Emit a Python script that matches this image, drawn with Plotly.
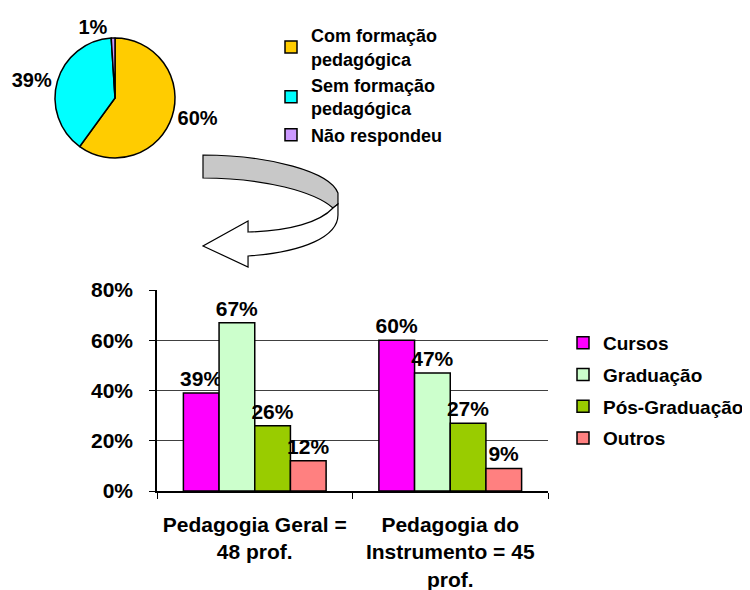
import plotly.graph_objects as go

W, H = 750, 590
OX, OY = 8, 8  # page body margin offset
FW, FH = W - OX, H - OY
FONT = 'Liberation Sans'

# pie data
pie_labels = ['Com formação<br>pedagógica', 'Sem formação<br>pedagógica', 'Não respondeu']
pie_values = [60, 39, 1]
pie_colors = ['#FFCC00', '#00FFFF', '#CC99FF']

# bar data
categories = ['Pedagogia Geral =<br>48 prof.', 'Pedagogia do<br>Instrumento = 45<br>prof.']
series_names = ['Cursos', 'Graduação', 'Pós-Graduação', 'Outros']
cursos = [39, 60]
graduacao = [67, 47]
pos_graduacao = [26, 27]
outros = [12, 9]
bar_colors = ['#FF00FF', '#CCFFCC', '#99CC00', '#FF8080']
y_ticks = [0, 20, 40, 60, 80]
y_ticktext = ['0%', '20%', '40%', '60%', '80%']


def fx(x):
    return (x - OX) / FW


def fy(y):
    return 1 - (y - OY) / FH


def path(cmds):
    out = []
    for c in cmds:
        if isinstance(c, str):
            out.append(c)
        else:
            out.append(f'{fx(c[0]):.4f},{fy(c[1]):.4f}')
    return ' '.join(out)


fig = go.Figure()

fig.add_trace(go.Pie(
    labels=pie_labels, values=pie_values, sort=False,
    direction='clockwise', rotation=0,
    marker=dict(colors=pie_colors, line=dict(color='black', width=1.5)),
    textinfo='percent', textposition='outside',
    textfont=dict(family=FONT, size=20, color='black', weight='bold'),
    domain=dict(x=[fx(55), fx(175)], y=[fy(158), fy(38)]),
    legend='legend2', showlegend=True, hoverinfo='label+percent'
))

for name, vals, col in zip(series_names, [cursos, graduacao, pos_graduacao, outros], bar_colors):
    fig.add_trace(go.Bar(
        x=categories, y=vals, name=name, legendgroup=name,
        marker=dict(color=col, line=dict(color='black', width=1.5)),
        text=[f'{v}%' for v in vals], textposition='outside',
        texttemplate='%{text}', constraintext='none', cliponaxis=False,
        textfont=dict(family=FONT, size=21, color='black', weight='bold')
    ))

# curved arrow (decoration)
gray = path(['M', (203, 155), 'C', (270, 155), (330, 172), (338, 193), 'L', (338, 204), 'L', (333, 208),
             'C', (315, 192), (265, 178), (203, 178), 'Z'])
white = path(['M', (333, 208), 'C', (320, 222), (290, 231), (248, 232), 'L', (248, 221), 'L', (203, 246),
              'L', (248, 267), 'L', (248, 256), 'C', (305, 252), (338, 236), (338, 215), 'L', (338, 204), 'Z'])

fig.update_layout(
    width=FW, height=FH, template='none',
    paper_bgcolor='white', plot_bgcolor='white',
    margin=dict(l=0, r=0, t=0, b=0),
    font=dict(family=FONT, size=20, color='black', weight='bold'),
    barmode='group', bargap=0.27, bargroupgap=0,
    xaxis=dict(domain=[fx(157), fx(548)], automargin=False, showline=True, linecolor='black', linewidth=1.5,
               ticks='outside', tickson='boundaries', ticklen=6, tickcolor='black', showgrid=False,
               tickfont=dict(family=FONT, size=21, weight='bold'), ticklabelstandoff=14),
    yaxis=dict(domain=[fy(491), fy(290)], automargin=False, range=[0, 80], tickvals=y_ticks,
               ticktext=y_ticktext, showline=True, linecolor='black', linewidth=1.5,
               ticks='outside', ticklen=6, tickcolor='black', showgrid=True, gridcolor='#404040',
               gridwidth=1, zeroline=False, tickfont=dict(family=FONT, size=21, weight='bold'),
               ticklabelstandoff=12),
    legend=dict(x=fx(563), y=fy(324), xanchor='left', yanchor='top', bgcolor='rgba(0,0,0,0)',
                font=dict(family=FONT, size=19, weight='bold'), tracegroupgap=4, traceorder='grouped'),
    legend2=dict(x=fx(271), y=fy(17), xanchor='left', yanchor='top', bgcolor='rgba(0,0,0,0)',
                 font=dict(family=FONT, size=18, weight='bold')),
    shapes=[
        dict(type='path', xref='paper', yref='paper', path=gray, fillcolor='#C8C8C8',
             line=dict(color='black', width=1.2)),
        dict(type='path', xref='paper', yref='paper', path=white, fillcolor='white',
             line=dict(color='black', width=1.2)),
    ],
)

fig.write_html('out.html')
